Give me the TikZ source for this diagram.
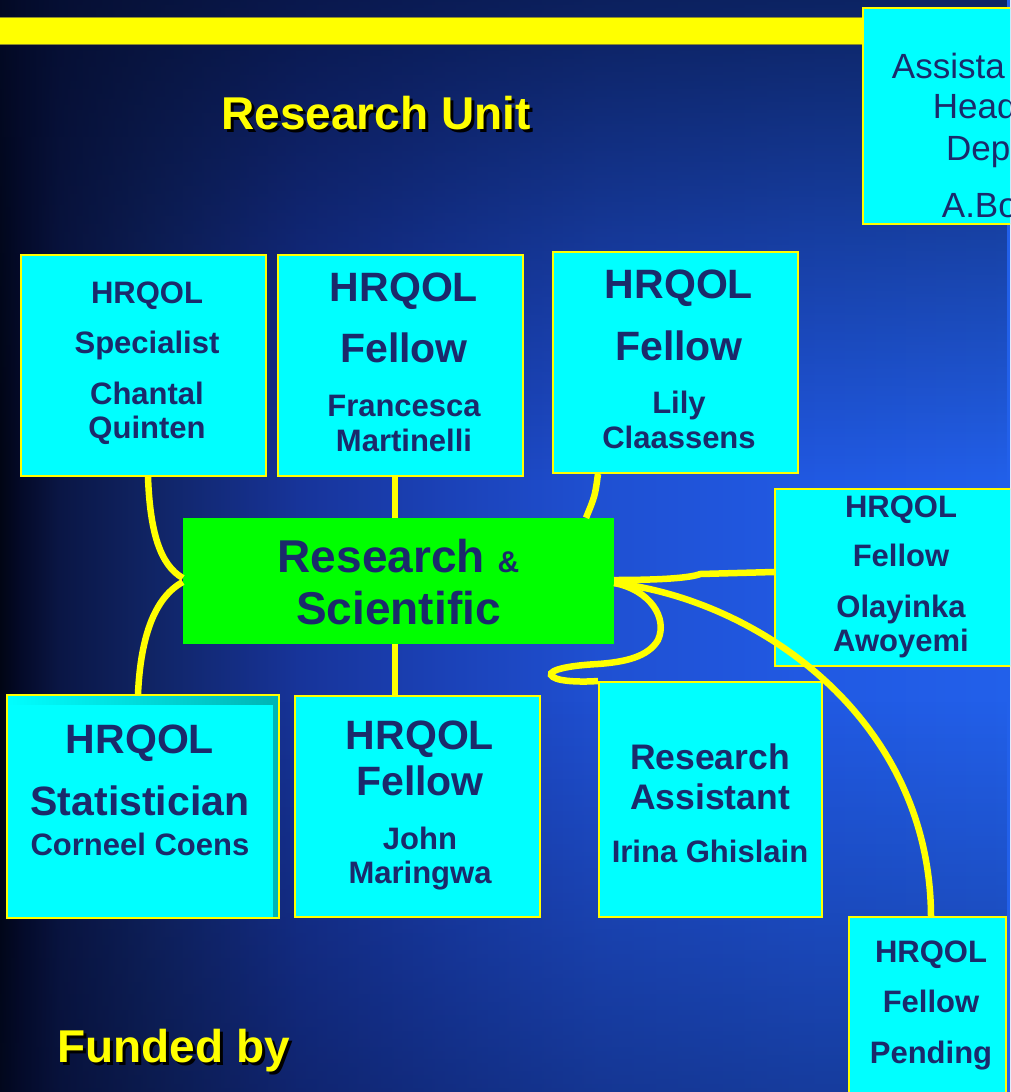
\documentclass[tikz,border=0pt]{standalone}
\usepackage{fontspec}
\setmainfont{Liberation Sans}
\usetikzlibrary{fadings}
\definecolor{navy}{HTML}{1B2A6B}
\definecolor{cyanbox}{HTML}{00FFFF}
\definecolor{yel}{HTML}{FFFF00}
\definecolor{grn}{HTML}{00FF00}
\definecolor{barline}{HTML}{8C8C28}
\definecolor{bgdark}{HTML}{040C2C}
\definecolor{tealsh}{HTML}{00B4B4}
\definecolor{bg0}{HTML}{010514}
\definecolor{bg1}{HTML}{040A28}
\definecolor{bg2}{HTML}{0A1645}
\definecolor{bg3}{HTML}{102464}
\definecolor{bg4}{HTML}{17349A}
\definecolor{bg5}{HTML}{1B42B8}
\definecolor{bg6}{HTML}{1F50D2}
\definecolor{bg7}{HTML}{2159E2}
\definecolor{bg8}{HTML}{2260EA}
\pgfdeclarehorizontalshading{bgh}{100bp}{color(0bp)=(bg0); color(25bp)=(bg0); color(26bp)=(bg1); color(27.97bp)=(bg2); color(32.43bp)=(bg3); color(39.85bp)=(bg4); color(47.28bp)=(bg5); color(54.7bp)=(bg6); color(64.6bp)=(bg7); color(75bp)=(bg8); color(100bp)=(bg8)}
\tikzfading[name=fadetop, top color=transparent!30, bottom color=transparent!100]
\tikzfading[name=fadebot, top color=transparent!100, bottom color=transparent!62]
\begin{document}
\begin{tikzpicture}[x=1pt,y=-1pt,
 cbox/.style={draw=yel, line width=2pt, fill=cyanbox, inner sep=0pt},
 conn/.style={draw=yel, line width=6.5pt},
 lbl/.style={text=navy, anchor=base, inner sep=0pt},
 fa/.style={font=\bfseries\fontsize{31}{31}\selectfont},
 fb/.style={font=\bfseries\fontsize{41}{41}\selectfont},
 fc/.style={font=\bfseries\fontsize{46}{46}\selectfont},
 fd/.style={font=\bfseries\fontsize{35.5}{36}\selectfont},
 fr/.style={font=\fontsize{35}{35}\selectfont, text=navy, anchor=base west, inner sep=0pt},
 ttl/.style={font=\bfseries\fontsize{46}{46}\selectfont, text=yel, inner sep=0pt},
 shd/.style={font=\bfseries\fontsize{46}{46}\selectfont, text=black, inner sep=0pt},
]
\useasboundingbox (0,0) rectangle (1010,1092);
\begin{scope}
\clip (0,0) rectangle (1010,1092);
% background
\fill[shading=bgh] (0,0) rectangle (1010,1092);
\fill[bgdark, path fading=fadetop] (0,0) rectangle (1010,480);
\fill[bgdark, path fading=fadebot] (0,700) rectangle (1010,1092);
% top bar and assistant box
\node[draw=barline, line width=0.8pt, fill=yel, minimum width=873pt, minimum height=27pt, inner sep=0pt] (bar) at (426.5,30.5) {};
\node[cbox, minimum width=200pt, minimum height=216pt] (asst) at (963,116) {};
\node[fr] (asst1) at (891.7,78) {Assista};
\node[fr] (asst2) at (932.7,118) {Head};
\node[fr] (asst3) at (946,160) {Dep};
\node[fr] (asst4) at (941.7,217) {A.Bo};
% titles
\node[shd, anchor=base] (ttlshadow) at (379,132.5) {Research Unit};
\node[ttl, anchor=base] (ttl) at (376,129.5) {Research Unit};
\node[shd, anchor=base west] (fundshadow) at (60,1065.5) {Funded by};
\node[ttl, anchor=base west] (fund) at (57,1062.5) {Funded by};
% boxes
\node[cbox, minimum width=245pt, minimum height=221pt] (spec) at (143.5,365.5) {};
\node[cbox, minimum width=245pt, minimum height=221pt] (fran) at (400.5,365.5) {};
\node[cbox, minimum width=245pt, minimum height=221pt] (lily) at (675.5,362.5) {};
\node[cbox, minimum width=252pt, minimum height=177pt] (olay) at (901,577.5) {};
\node[cbox, left color=cyanbox, right color=tealsh, minimum width=272pt, minimum height=223pt] (stat) at (143,806.5) {};
\node[fill=cyanbox, inner sep=0pt, minimum width=265pt, minimum height=212pt] (statin) at (140.5,811) {};
\node[cbox, minimum width=245pt, minimum height=221pt] (john) at (417.5,806.5) {};
\node[cbox, minimum width=223pt, minimum height=235pt] (irina) at (710.5,799.5) {};
\node[cbox, minimum width=157pt, minimum height=203pt] (pend) at (927.5,1018.5) {};
\node[fill=grn, inner sep=0pt, minimum width=431pt, minimum height=126pt] (green) at (398.5,581) {};
% connectors
\draw[conn] ([xshift=4.5pt]spec.south) .. controls +(2,54) and +(-23,-13) .. ([yshift=3pt]green.west);
\draw[conn] ([yshift=-1pt]green.west) .. controls +(-33,18) and +(2,-45) .. ([xshift=-5pt]stat.north);
\draw[conn] ([xshift=-5.5pt]fran.south) -- ([xshift=-3.5pt]green.north);
\draw[conn] ([xshift=-77.5pt]lily.south) .. controls +(-3,22) .. ([xshift=187.5pt]green.north);
\draw[conn] ([xshift=-3.5pt]green.south) -- ([xshift=-22.5pt]john.north);
\draw[conn] ([yshift=1pt]green.east) .. controls +(46,0) and +(-10,4) .. +(86,-6) -- ([yshift=5.5pt]olay.west);
\draw[conn] ([yshift=-2pt]green.east) .. controls (650,590) and (668,618) .. (658,640)
  .. controls (648,657) and (625,662) .. (598,664)
  .. controls (560,666) and (545,672) .. (553,677)
  .. controls (560,682) and (585,682) .. (irina.north west);
\draw[conn] ([yshift=-2pt]green.east) .. controls (760,600) and (930,720) .. ([xshift=3.5pt]pend.north);
% texts
\node[lbl, fa] (spec1) at (147,303) {HRQOL};
\node[lbl, fa] (spec2) at (147,353) {Specialist};
\node[lbl, fa] (spec3) at (147,404) {Chantal};
\node[lbl, fa] (spec4) at (147,438) {Quinten};
\node[lbl, fb] (fran1) at (404,301.5) {HRQOL};
\node[lbl, fb] (fran2) at (404,362.5) {Fellow};
\node[lbl, fa] (fran3) at (404,416) {Francesca};
\node[lbl, fa] (fran4) at (404,451) {Martinelli};
\node[lbl, fb] (lily1) at (679,298.5) {HRQOL};
\node[lbl, fb] (lily2) at (679,360.5) {Fellow};
\node[lbl, fa] (lily3) at (679,413) {Lily};
\node[lbl, fa] (lily4) at (679,448) {Claassens};
\node[lbl, fa] (olay1) at (901,517) {HRQOL};
\node[lbl, fa] (olay2) at (901,566) {Fellow};
\node[lbl, fa] (olay3) at (901,617) {Olayinka};
\node[lbl, fa] (olay4) at (901,651) {Awoyemi};
\node[lbl, fb] (stat1) at (140,753.5) {HRQOL};
\node[lbl, fb] (stat2) at (140,815.5) {Statistician};
\node[lbl, fa] (stat3) at (140,855) {Corneel Coens};
\node[lbl, fb] (john1) at (420,749.5) {HRQOL};
\node[lbl, fb] (john2) at (420,795.5) {Fellow};
\node[lbl, fa] (john3) at (420,849) {John};
\node[lbl, fa] (john4) at (420,883) {Maringwa};
\node[lbl, fd] (irina1) at (710,769.5) {Research};
\node[lbl, fd] (irina2) at (710,809.5) {Assistant};
\node[lbl, fa] (irina3) at (710,862) {Irina Ghislain};
\node[lbl, fa] (pend1) at (931,962) {HRQOL};
\node[lbl, fa] (pend2) at (931,1012) {Fellow};
\node[lbl, fa] (pend3) at (931,1063) {Pending};
\node[lbl, fc] (green1) at (398.5,572.5) {Research {\fontsize{30}{30}\selectfont\&}};
\node[lbl, fc] (green2) at (398.5,624.5) {Scientific};
\end{scope}
\end{tikzpicture}
\end{document}
